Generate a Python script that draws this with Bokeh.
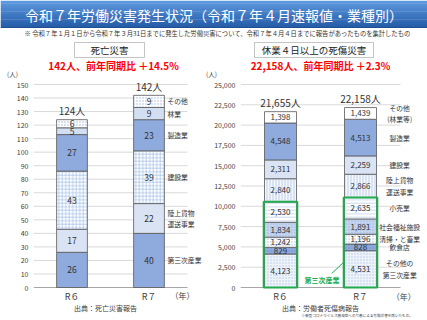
import numpy as np
from bokeh.plotting import figure
from bokeh.models import (Range1d, FixedTicker, NumeralTickFormatter, Label,
                          ColumnDataSource, BoxAnnotation)
from bokeh.layouts import column, row
from bokeh.embed import file_html
from bokeh.resources import INLINE
from bokeh.core.properties import value

FONT = "Noto Sans CJK JP"

# ---------------- data ----------------
years = ["R６", "R７"]

fatal_categories = ["第三次産業", "陸上貨物\n運送事業", "建設業", "製造業", "林業", "その他"]
fatal_r6 = [26, 17, 43, 27, 5, 6]
fatal_r7 = [40, 22, 39, 23, 9, 9]
fatal_ticks = list(range(0, 151, 10))

injury_categories = ["その他の\n第三次産業", "飲食店", "清掃・と畜業", "社会福祉施設", "小売業",
                     "陸上貨物\n運送事業", "建設業", "製造業", "その他\n(林業等)"]
injury_r6 = [4123, 829, 1242, 1834, 2530, 2840, 2311, 4548, 1398]
injury_r7 = [4531, 828, 1196, 1891, 2635, 2866, 2259, 4513, 1439]
injury_ticks = list(range(0, 25001, 2500))
tertiary_count = 5  # first five injury categories belong to 第三次産業

# ---------------- styles ----------------
fatal_styles = [
    dict(fill_color="#8FAADC"),
    dict(fill_color="#DAE3F3"),
    dict(fill_color="#FFFFFF", hatch_pattern="+", hatch_color="#A9C4E8", hatch_scale=3.5, hatch_weight=0.8),
    dict(fill_color="#8FAADC"),
    dict(fill_color="#D2DEF1"),
    dict(fill_color="#FFFFFF", hatch_pattern=".", hatch_color="#9DB5DD", hatch_scale=3, hatch_weight=0.8),
]
injury_styles = [
    dict(fill_color="#EEF3FA", hatch_pattern=".", hatch_color="#B4C7E7", hatch_scale=3, hatch_weight=0.6),
    dict(fill_color="#8FAADC", hatch_pattern=".", hatch_color="#6F8FC8", hatch_scale=3, hatch_weight=0.6),
    dict(fill_color="#FFFFFF", hatch_pattern=".", hatch_color="#A9BEE2", hatch_scale=3, hatch_weight=0.6),
    dict(fill_color="#C5D5EE", hatch_pattern=".", hatch_color="#9FB6DE", hatch_scale=3, hatch_weight=0.6),
    dict(fill_color="#FFFFFF", hatch_pattern="-", hatch_color="#B4C7E7", hatch_scale=3.5, hatch_weight=0.7),
    dict(fill_color="#DAE3F3", hatch_pattern="|", hatch_color="#FFFFFF", hatch_scale=3, hatch_weight=0.7),
    dict(fill_color="#DAE3F3"),
    dict(fill_color="#8FAADC"),
    dict(fill_color="#FFFFFF"),
]

TXT = "#333333"
AX = "#404040"
HDR_H = 78
CH_H = 320 - HDR_H
ZERO_Y = 287   # page y of value 0
TOP_Y = 84     # page y of the top tick


def make_chart(cats, r6, r7, ticks, styles, width, bl, frame_px, px_per_unit, val_size,
               name_x, name_align, comma):
    ymax = ticks[-1]
    upp = ymax / (ZERO_Y - TOP_Y)            # data units per pixel
    y0 = -(320 - ZERO_Y) * upp
    y1 = ymax + (TOP_Y - HDR_H) * upp
    x1 = 0.5 + frame_px / px_per_unit
    p = figure(width=width, height=CH_H, x_range=Range1d(0.5, x1), y_range=Range1d(y0, y1),
               output_backend="svg", toolbar_location=None,
               min_border_left=bl, min_border_right=0, min_border_top=0, min_border_bottom=0)
    p.outline_line_color = None
    p.xaxis.visible = False
    p.xgrid.visible = False
    p.ygrid.visible = False
    # grid lines
    gcol = ["#D9D9D9"] * len(ticks)
    gcol[0] = "#A6A6A6"
    p.segment(x0=[0.5] * len(ticks), x1=[2.5] * len(ticks), y0=ticks, y1=ticks,
              line_color=gcol, line_width=1)
    xs = [1, 2]
    vals = np.array([r6, r7])
    tops = np.cumsum(vals, axis=1)
    bottoms = tops - vals
    for i, cat in enumerate(cats):
        v = vals[:, i]
        src = ColumnDataSource(dict(
            x=xs, bottom=bottoms[:, i], top=tops[:, i], mid=(bottoms[:, i] + tops[:, i]) / 2,
            lab=[f"{int(a):,}" if comma else str(int(a)) for a in v]))
        p.vbar(x="x", width=0.4, bottom="bottom", top="top", source=src,
               line_color="#595959", line_width=0.8, **styles[i])
        p.text(x="x", y="mid", text="lab", source=src, text_align="center",
               text_baseline="middle", text_font=value(FONT), text_font_size=val_size,
               text_color=TXT)
    totals = tops[:, -1]
    tsrc = ColumnDataSource(dict(x=xs, y=totals,
                                 lab=[(f"{int(t):,}" if comma else str(int(t))) + "人" for t in totals]))
    p.text(x="x", y="y", text="lab", source=tsrc, text_align="center", text_baseline="middle",
           y_offset=-9, text_font=value(FONT), text_font_size="10px", text_color=TXT)
    # category names beside R7 bar
    nsrc = ColumnDataSource(dict(x=[name_x] * len(cats), y=(bottoms[1] + tops[1]) / 2, lab=cats))
    p.text(x="x", y="y", text="lab", source=nsrc, text_align=name_align,
           text_baseline="middle", text_font=value(FONT), text_font_size="6.8px",
           text_color=TXT, text_line_height=1.15)
    # year labels
    ysrc = ColumnDataSource(dict(x=xs, y=[-9 * upp] * 2, lab=years))
    p.text(x="x", y="y", text="lab", source=ysrc, text_align="center", text_baseline="middle",
           text_font=value(FONT), text_font_size="9px", text_color=AX)
    # y axis
    p.yaxis.ticker = FixedTicker(ticks=ticks)
    if comma:
        p.yaxis.formatter = NumeralTickFormatter(format="0,0")
    p.yaxis.axis_line_color = None
    p.yaxis.major_tick_line_color = None
    p.yaxis.minor_tick_line_color = None
    p.yaxis.major_tick_out = 0
    p.yaxis.major_tick_in = 0
    p.yaxis.major_label_standoff = 5
    p.yaxis.major_label_text_font = FONT
    p.yaxis.major_label_text_font_size = "7px"
    p.yaxis.major_label_text_color = AX
    return p, upp


def note(p, x, y, text, size, color=AX, style="normal", align="center"):
    p.text(x=[x], y=[y], text=[text], text_align=align, text_baseline="middle",
           text_font=value(FONT), text_font_size=size, text_color=color,
           text_font_style=style)


# ---------------- left chart ----------------
left, lupp = make_chart(fatal_categories, fatal_r6, fatal_r7, fatal_ticks, fatal_styles,
                        203, 33, 170, 77, "8.5px", 2.24, "left", False)
note(left, 2.435, -8 * lupp, "（年）", "8px")
note(left, 1.435, -20 * lupp, "出典：死亡災害報告", "7px")

# ---------------- right chart ----------------
right, rupp = make_chart(injury_categories, injury_r6, injury_r7, injury_ticks, injury_styles,
                         224, 37, 187, 80, "8px", 2.49, "center", True)
tert_tops = [sum(injury_r6[:tertiary_count]), sum(injury_r7[:tertiary_count])]
right.vbar(x=[1, 2], width=0.42, bottom=0, top=tert_tops, fill_color=None,
           line_color="#22AA4E", line_width=2)
note(right, 1.52, 8 * rupp, "第三次産業", "7px", color="#22AA4E", style="bold")
right.segment(x0=[1.64], y0=[14 * rupp], x1=[1.80], y1=[26 * rupp],
              line_color="#22AA4E", line_width=1)
note(right, 2.54, -9 * rupp, "（年）", "8px")
note(right, 1.5, -20 * rupp, "出典：労働者死傷病報告", "7px")
note(right, 1.96, -28 * rupp, "※新型コロナウイルス感染症へのり患による労働災害を除いたもの。", "3.6px")

# ---------------- header ----------------
hdr = figure(width=427, height=HDR_H, x_range=Range1d(0, 427), y_range=Range1d(HDR_H, 0),
             output_backend="svg", toolbar_location=None, min_border=0)
hdr.axis.visible = False
hdr.grid.visible = False
hdr.outline_line_color = None
c0 = np.array([92, 152, 222])
c1 = np.array([38, 94, 170])
n = 10
for k in range(n):
    c = c0 + (c1 - c0) * k / (n - 1)
    hdr.add_layout(BoxAnnotation(left=0, right=427, top=k * 2.7, bottom=(k + 1) * 2.7 + 0.3,
                                 fill_color="#%02x%02x%02x" % tuple(int(v) for v in c),
                                 fill_alpha=1, line_color=None))
hdr.add_layout(BoxAnnotation(left=0, right=427, top=26.5, bottom=27.5, fill_color="#1F4E8C",
                             fill_alpha=1, line_color=None))


def hlabel(x, y, text, size, color="#222222", style="normal"):
    hdr.add_layout(Label(x=x, y=y, text=text, text_align="center", text_baseline="middle",
                         text_color=color, text_font=FONT, text_font_size=size,
                         text_font_style=style))


hlabel(213.5, 14, "令和７年労働災害発生状況（令和７年４月速報値・業種別）", "14px", color="white")
hlabel(217, 33, "※ 令和７年１月１日から令和７年３月31日までに発生した労働災害について、令和７年４月４日までに報告があったものを集計したもの",
       "6.3px", color="#333333")
hdr.add_layout(BoxAnnotation(left=74, right=144, top=42, bottom=57, fill_color="white",
                             fill_alpha=1, line_color="#404040", line_width=1))
hdr.add_layout(BoxAnnotation(left=254, right=373, top=42, bottom=57, fill_color="white",
                             fill_alpha=1, line_color="#404040", line_width=1))
hlabel(109, 49.5, "死亡災害", "9.5px")
hlabel(313.5, 49.5, "休業４日以上の死傷災害", "9.5px")
hlabel(113, 65, "142人、前年同期比 ＋14.5%", "10px", color="#FF0000", style="bold")
hlabel(320, 65, "22,158人、前年同期比 ＋2.3%", "10px", color="#FF0000", style="bold")
hlabel(12, 73, "(人)", "6.5px", color=AX)
hlabel(211, 73, "(人)", "6.5px", color=AX)

layout = column(hdr, row(left, right, spacing=0), spacing=0)
open("out.html", "w").write(file_html(layout, INLINE))
